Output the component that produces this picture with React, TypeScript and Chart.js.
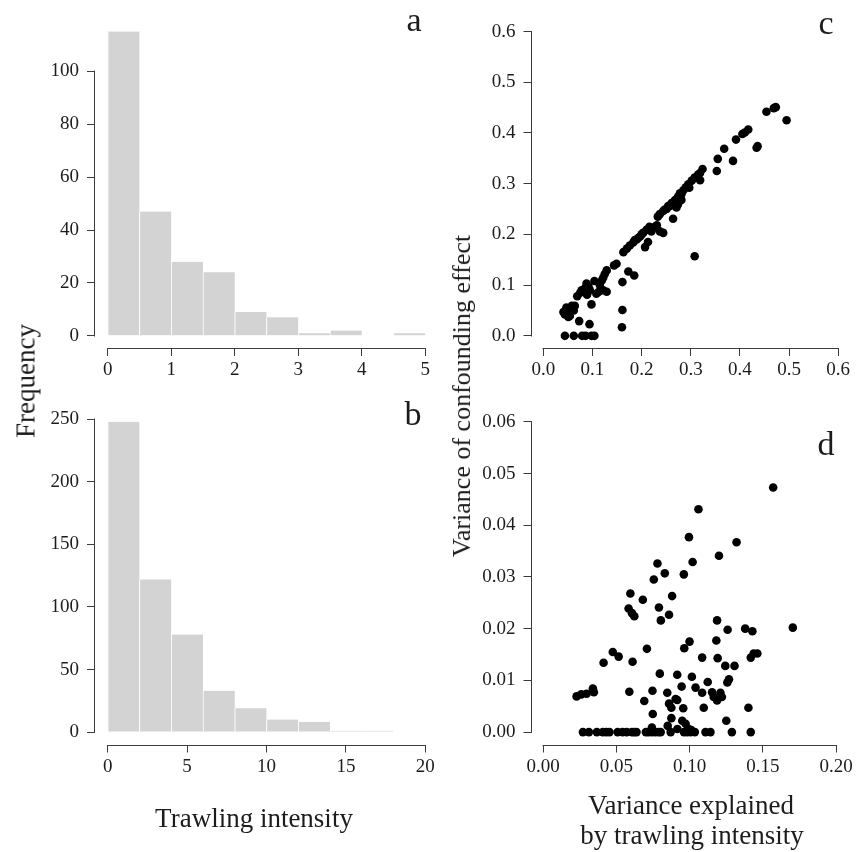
import React, { useEffect, useRef } from "react";
import { Chart, registerables } from "chart.js";

Chart.register(...registerables);

// ---------- data ----------
// Panel a: histogram of trawling intensity (bins of 0.5)
const aBreaks = [0, 0.5, 1, 1.5, 2, 2.5, 3, 3.5, 4, 4.5, 5];
const aCounts = [115, 47, 28, 24, 9, 7, 1, 2, 0, 1];
const aXTicks = [0, 1, 2, 3, 4, 5];
const aYTicks = [0, 20, 40, 60, 80, 100];
const aXLim = [0, 5];

// Panel b: histogram of trawling intensity (bins of 2)
const bBreaks = [0, 2, 4, 6, 8, 10, 12, 14, 16, 18];
const bCounts = [248, 122, 78, 33, 19, 10, 8, 1, 1];
const bXTicks = [0, 5, 10, 15, 20];
const bYTicks = [0, 50, 100, 150, 200, 250];
const bXLim = [0, 20];

// Panel c: variance explained vs variance of confounding effect
const cX = [
  0.473, 0.469, 0.454, 0.495, 0.417, 0.41, 0.405, 0.392, 0.436, 0.434,
  0.368, 0.386, 0.355, 0.353, 0.324, 0.319, 0.315, 0.308, 0.319, 0.302,
  0.295, 0.297, 0.29, 0.285, 0.281, 0.278, 0.274, 0.268, 0.261, 0.258,
  0.254, 0.251, 0.247, 0.244, 0.237, 0.233, 0.281, 0.274, 0.271, 0.264,
  0.308, 0.244, 0.237, 0.231, 0.227, 0.22, 0.216, 0.21, 0.203, 0.2,
  0.197, 0.193, 0.19, 0.186, 0.183, 0.176, 0.17, 0.163, 0.213, 0.207,
  0.149, 0.144, 0.173, 0.185, 0.161, 0.129, 0.125, 0.122, 0.119, 0.115,
  0.113, 0.108, 0.129, 0.122, 0.104, 0.088, 0.092, 0.085, 0.081, 0.078,
  0.075, 0.069, 0.089, 0.098, 0.095, 0.041, 0.047, 0.051, 0.054, 0.058,
  0.062, 0.064, 0.054, 0.044, 0.051, 0.073, 0.094, 0.161, 0.16,
  0.044, 0.062, 0.079, 0.086, 0.098, 0.104,
];
const cY = [
  0.451, 0.449, 0.442, 0.425, 0.407, 0.401, 0.398, 0.387, 0.374, 0.371,
  0.369, 0.345, 0.349, 0.325, 0.329, 0.321, 0.318, 0.312, 0.307, 0.306,
  0.299, 0.292, 0.293, 0.287, 0.279, 0.281, 0.274, 0.268, 0.262, 0.256,
  0.256, 0.25, 0.249, 0.246, 0.24, 0.235, 0.268, 0.259, 0.253, 0.231,
  0.157, 0.203, 0.206, 0.218, 0.215, 0.206, 0.215, 0.209, 0.203, 0.2,
  0.196, 0.193, 0.19, 0.189, 0.184, 0.178, 0.172, 0.165, 0.185, 0.175,
  0.142, 0.139, 0.127, 0.119, 0.106, 0.129, 0.122, 0.115, 0.109, 0.1,
  0.087, 0.083, 0.087, 0.09, 0.108, 0.103, 0.097, 0.094, 0.087, 0.09,
  0.085, 0.078, 0.081, 0.062, 0.09, 0.047, 0.056, 0.044, 0.053, 0.059,
  0.05, 0.059, 0.039, 0.042, 0.037, 0.029, 0.023, 0.051, 0.017,
  0, 0, 0, 0, 0, 0,
];
const cXTicks = [0, 0.1, 0.2, 0.3, 0.4, 0.5, 0.6];
const cYTicks = [0, 0.1, 0.2, 0.3, 0.4, 0.5, 0.6];
const cXLim = [0, 0.6];
const cYLim = [0, 0.6];

// Panel d
const dX = [
  0.157, 0.106, 0.0995, 0.132, 0.12, 0.078, 0.102, 0.083, 0.096, 0.0755,
  0.0595, 0.068, 0.088, 0.0583, 0.079, 0.0606, 0.0622, 0.0859, 0.0803, 0.1187,
  0.1259, 0.1379, 0.1428, 0.1704, 0.0999, 0.1182, 0.0963, 0.0708, 0.0475, 0.0515,
  0.1085, 0.1191, 0.1437, 0.1462, 0.1417, 0.0412, 0.061, 0.1243, 0.1306, 0.0796,
  0.0915, 0.1015, 0.1123, 0.1268, 0.1257, 0.0945, 0.104, 0.0339, 0.0346, 0.0228,
  0.026, 0.0296, 0.0588, 0.0746, 0.0847, 0.1085, 0.1153, 0.1164, 0.121, 0.122,
  0.1187, 0.0904, 0.0915, 0.069, 0.0859, 0.0875, 0.0956, 0.1096, 0.1401, 0.0748,
  0.0875, 0.125, 0.0949, 0.0972, 0.085, 0.0742, 0.0916, 0.0989, 0.1011,
  0.0271, 0.0312, 0.0366, 0.0407, 0.043, 0.0452, 0.0508, 0.0542, 0.057, 0.0606,
  0.0622, 0.0637, 0.0701, 0.0719, 0.0741, 0.0764, 0.0787, 0.0802, 0.087, 0.0961,
  0.0983, 0.1006, 0.1035, 0.1108, 0.1142, 0.1288, 0.1417,
];
const dY = [
  0.0473, 0.0431, 0.0377, 0.0367, 0.0341, 0.0326, 0.0329, 0.0307, 0.0305, 0.0295,
  0.0268, 0.0256, 0.0263, 0.0239, 0.0241, 0.023, 0.0224, 0.0227, 0.0216, 0.0216,
  0.0198, 0.02, 0.0195, 0.0202, 0.0175, 0.0177, 0.0162, 0.0161, 0.0155, 0.0146,
  0.0144, 0.0143, 0.0152, 0.0152, 0.0144, 0.0134, 0.0136, 0.0128, 0.0128, 0.0113,
  0.0111, 0.0107, 0.0097, 0.0102, 0.0096, 0.0088, 0.0086, 0.0084, 0.0077, 0.0069,
  0.0073, 0.0074, 0.0078, 0.008, 0.0076, 0.0076, 0.0077, 0.0068, 0.0076, 0.0068,
  0.0061, 0.0064, 0.0062, 0.006, 0.0055, 0.0047, 0.0046, 0.0047, 0.0047, 0.0035,
  0.0027, 0.0022, 0.0022, 0.0016, 0.0012, 0.0009, 0.0006, 0.0007, 0.0004,
  0, 0, 0, 0, 0, 0, 0, 0, 0, 0,
  0, 0, 0, 0, 0, 0, 0, 0, 0, 0,
  0, 0, 0, 0, 0, 0, 0,
];
const dXTicks = [0, 0.05, 0.1, 0.15, 0.2];
const dYTicks = [0, 0.01, 0.02, 0.03, 0.04, 0.05, 0.06];
const dXLim = [0, 0.2];
const dYLim = [0, 0.06];

// ---------- styling ----------
const SERIF = "'Liberation Serif', 'Times New Roman', Times, serif";
const LINE = "#3c3c3c";
const TEXT = "#1c1c1c";
const TICK_FONT = 19;

// R-style 4% axis extension
const extend = (lim: number[]) => {
  const d = (lim[1] - lim[0]) * 0.04;
  return [lim[0] - d, lim[1] + d];
};

function makeAxis(pos: "x" | "y", lim: number[], ticks: number[], decimals: number, size: number) {
  const r = extend(lim);
  return {
    type: "linear",
    position: pos === "x" ? "bottom" : "left",
    min: r[0],
    max: r[1],
    offset: false,
    afterBuildTicks: (s: any) => {
      s.ticks = ticks.map((v) => ({ value: v }));
    },
    afterFit: (s: any) => {
      if (pos === "x") s.height = size;
      else s.width = size;
    },
    grid: {
      display: true,
      drawOnChartArea: false,
      drawTicks: true,
      tickLength: 8,
      color: LINE,
      lineWidth: 1,
      offset: false,
    },
    border: { display: false },
    ticks: {
      autoSkip: false,
      maxRotation: 0,
      minRotation: 0,
      padding: pos === "x" ? 3 : 8,
      color: TEXT,
      font: { family: SERIF, size: TICK_FONT },
      callback: (v: any) => Number(v).toFixed(decimals),
    },
  };
}

// draws R-like axis lines spanning first..last tick
const rAxisPlugin = {
  id: "rAxis",
  afterDraw(chart: any) {
    const ctx = chart.ctx;
    const { left, bottom } = chart.chartArea;
    const xs = chart.scales.x;
    const ys = chart.scales.y;
    ctx.save();
    ctx.strokeStyle = LINE;
    ctx.lineWidth = 1;
    ctx.beginPath();
    const yb = Math.round(bottom) + 0.5;
    ctx.moveTo(Math.round(xs.getPixelForValue(xs.ticks[0].value)) - 0.5, yb);
    ctx.lineTo(Math.round(xs.getPixelForValue(xs.ticks[xs.ticks.length - 1].value)) + 0.5, yb);
    const xl = Math.round(left) - 0.5;
    ctx.moveTo(xl, Math.round(ys.getPixelForValue(ys.ticks[0].value)) + 0.5);
    ctx.lineTo(xl, Math.round(ys.getPixelForValue(ys.ticks[ys.ticks.length - 1].value)) - 0.5);
    ctx.stroke();
    ctx.restore();
  },
};

type Box = { cl: number; ct: number; cw: number; ch: number; pl: number; pt: number; pr: number; pb: number };

function PanelChart({ box, build }: { box: Box; build: (yw: number, xh: number) => any }) {
  const ref = useRef<HTMLCanvasElement | null>(null);
  useEffect(() => {
    if (!ref.current) return;
    const yw = box.pl - box.cl;
    const xh = box.ct + box.ch - box.pb;
    const cfg = build(yw, xh);
    cfg.options.layout = {
      autoPadding: false,
      padding: { left: 0, top: box.pt - box.ct, right: box.cl + box.cw - box.pr, bottom: 0 },
    };
    cfg.plugins = [rAxisPlugin];
    const chart = new Chart(ref.current, cfg);
    return () => chart.destroy();
  }, []);
  return (
    <canvas
      ref={ref}
      width={box.cw}
      height={box.ch}
      style={{ position: "absolute", left: box.cl, top: box.ct, width: box.cw, height: box.ch }}
    />
  );
}

function histConfig(breaks: number[], counts: number[], xLim: number[], xTicks: number[], yTicks: number[]) {
  return (yw: number, xh: number) => ({
    type: "bar",
    data: {
      datasets: [
        {
          data: counts.map((c, i) => ({ x: (breaks[i] + breaks[i + 1]) / 2, y: c })),
          backgroundColor: "#d3d3d3",
          borderColor: "#ffffff",
          borderWidth: { left: 1, right: 0, top: 0, bottom: 0 },
          borderSkipped: false,
          barPercentage: 1,
          categoryPercentage: 1,
        },
      ],
    },
    options: {
      animation: false,
      responsive: false,
      events: [],
      plugins: { legend: { display: false }, tooltip: { enabled: false } },
      scales: {
        x: makeAxis("x", xLim, xTicks, 0, xh),
        y: makeAxis("y", [0, Math.max(...counts)], yTicks, 0, yw),
      },
    },
  });
}

function scatterConfig(xs: number[], ys: number[], xLim: number[], yLim: number[], xTicks: number[], yTicks: number[], xd: number, yd: number) {
  return (yw: number, xh: number) => ({
    type: "scatter",
    data: {
      datasets: [
        {
          data: xs.map((x, i) => ({ x, y: ys[i] })),
          backgroundColor: "#000000",
          borderWidth: 0,
          pointRadius: 4.3,
          pointHoverRadius: 4.3,
        },
      ],
    },
    options: {
      animation: false,
      responsive: false,
      events: [],
      plugins: { legend: { display: false }, tooltip: { enabled: false } },
      scales: {
        x: makeAxis("x", xLim, xTicks, xd, xh),
        y: makeAxis("y", yLim, yTicks, yd, yw),
      },
    },
  });
}

function Label({ text, x, y, size, rotate = false }: { text: string; x: number; y: number; size: number; rotate?: boolean }) {
  return (
    <div
      style={{
        position: "absolute",
        left: x,
        top: y,
        transform: `translate(-50%, -50%)${rotate ? " rotate(-90deg)" : ""}`,
        fontFamily: SERIF,
        fontSize: size,
        lineHeight: 1,
        whiteSpace: "nowrap",
        color: TEXT,
      }}
    >
      {text}
    </div>
  );
}

const ROW1 = { ct: 0, ch: 390, pt: 1.5, pb: 348 };
const ROW2 = { ct: 390, ch: 420, pt: 398.5, pb: 744.5 };
const COL1 = { cl: 20, cw: 430, pl: 95, pr: 438 };
const COL2 = { cl: 460, cw: 396, pl: 531.5, pr: 850 };

export default function App() {
  return (
    <div style={{ position: "absolute", left: 0, top: 0, width: 856, height: 852, background: "#fff", overflow: "hidden" }}>
      <PanelChart box={{ ...COL1, ...ROW1 }} build={histConfig(aBreaks, aCounts, aXLim, aXTicks, aYTicks)} />
      <PanelChart box={{ ...COL1, ...ROW2 }} build={histConfig(bBreaks, bCounts, bXLim, bXTicks, bYTicks)} />
      <PanelChart box={{ ...COL2, ...ROW1 }} build={scatterConfig(cX, cY, cXLim, cYLim, cXTicks, cYTicks, 1, 1)} />
      <PanelChart box={{ ...COL2, ...ROW2 }} build={scatterConfig(dX, dY, dXLim, dYLim, dXTicks, dYTicks, 2, 2)} />

      <Label text="a" x={414} y={20} size={34} />
      <Label text="b" x={413} y={414} size={34} />
      <Label text="c" x={826} y={23} size={34} />
      <Label text="d" x={826} y={444} size={34} />

      <Label text="Frequency" x={26} y={381} size={27} rotate />
      <Label text="Trawling intensity" x={254} y={818} size={27} />
      <Label text="Variance of confounding effect" x={462} y={396} size={26} rotate />
      <Label text="Variance explained" x={691} y={805} size={27} />
      <Label text="by trawling intensity" x={692} y={835} size={27} />
    </div>
  );
}
